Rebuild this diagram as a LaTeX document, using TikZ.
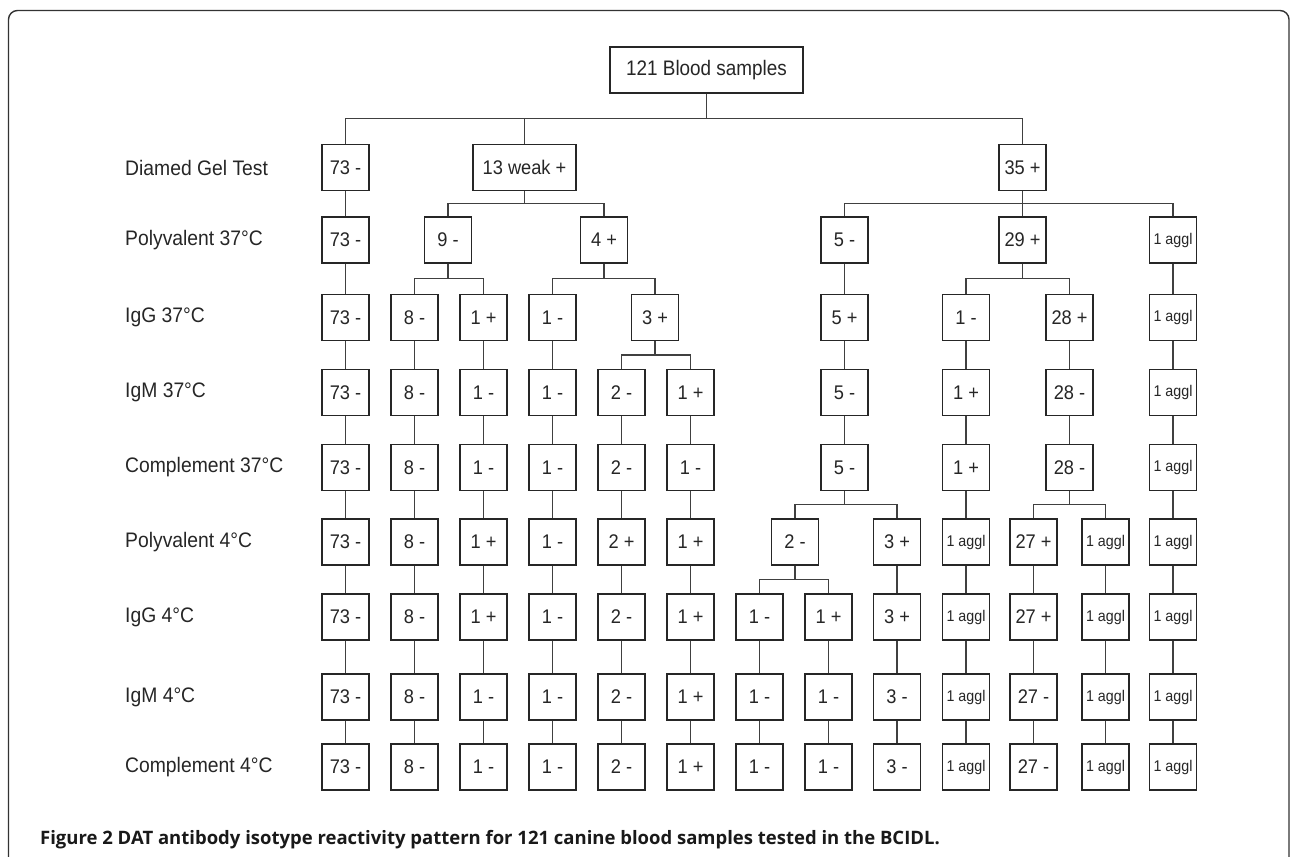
\documentclass[tikz,border=0pt]{standalone}
\usepackage{graphicx}
\usepackage{fontspec}
\setmainfont{Liberation Sans}
\newfontfamily\capfont{Open Sans}
\usetikzlibrary{calc}
\newcommand\B[4]{\node[cell] (#1) at (#2,#3) {\scalebox{.96}[1.04]{#4}};}
\newcommand\A[3]{\node[cell,aggcell] (#1) at (#2,#3) {\scalebox{.92}[1]{1 aggl}};}
\newcommand\lnk[2]{\draw[conn] (#1.south) |- ($(#1.south)!.5!(#2.north)$) -| (#2.north);}
\newcommand\Lb[3]{\node[lab] (#1) at (125,#2) {\scalebox{.92}[1]{#3}};}
\begin{document}
\begin{tikzpicture}[x=1pt,y=-1pt,
  cell/.style={draw=black!85, line width=1.2pt, minimum width=47pt, minimum height=46pt, inner sep=0pt, font=\fontsize{19}{21}\selectfont, text=black!85},
  aggcell/.style={font=\fontsize{15.5}{17}\selectfont},
  lab/.style={anchor=west, inner sep=0pt, font=\fontsize{21}{23}\selectfont, text=black!85},
  conn/.style={draw=black!75, line width=1.2pt}]
\useasboundingbox (0,0) rectangle (1292,856);
\clip (0,0) rectangle (1292,856);
\fill[white] (0,0) rectangle (1292,856);
% frame
\draw[black!80, line width=1.4pt, rounded corners=9pt] (8.5,900) -- (8.5,10.5) -- (1289,10.5) -- (1289,900);
% labels
\Lb{L1}{167.5}{Diamed Gel Test}
\Lb{L2}{240}{Polyvalent 37°C}
\Lb{L3}{317.5}{IgG 37°C}
\Lb{L4}{392.5}{IgM 37°C}
\Lb{L5}{467.5}{Complement 37°C}
\Lb{L6}{542}{Polyvalent 4°C}
\Lb{L7}{617}{IgG 4°C}
\Lb{L8}{697}{IgM 4°C}
\Lb{L9}{767}{Complement 4°C}
% root
\node[cell, minimum width=193pt, font=\fontsize{21}{23}\selectfont] (root) at (706.5,70) {\scalebox{.9}[1]{121 Blood samples}};
% row 1
\B{a1}{345.5}{167.5}{73 -}
\node[cell, minimum width=103pt] (w1) at (524.5,167.5) {\scalebox{.96}[1.04]{13 weak +}};
\B{p1}{1022.5}{167.5}{35 +}
% row 2
\B{a2}{345.5}{240}{73 -}
\B{b2}{448}{240}{9 -}
\B{c2}{604}{240}{4 +}
\B{d2}{844.5}{240}{5 -}
\B{e2}{1022.5}{240}{29 +}
\A{f2}{1173}{240}
% row 3
\B{a3}{345.5}{317.5}{73 -}
\B{g3}{414.5}{317.5}{8 -}
\B{h3}{483.5}{317.5}{1 +}
\B{i3}{552.5}{317.5}{1 -}
\B{j3}{655}{317.5}{3 +}
\B{d3}{844.5}{317.5}{5 +}
\B{k3}{966}{317.5}{1 -}
\B{l3}{1069.5}{317.5}{28 +}
\A{f3}{1173}{317.5}
% row 4
\B{a4}{345.5}{392.5}{73 -}
\B{g4}{414.5}{392.5}{8 -}
\B{h4}{483.5}{392.5}{1 -}
\B{i4}{552.5}{392.5}{1 -}
\B{m4}{621.5}{392.5}{2 -}
\B{n4}{690.5}{392.5}{1 +}
\B{d4}{844.5}{392.5}{5 -}
\B{k4}{966}{392.5}{1 +}
\B{l4}{1069.5}{392.5}{28 -}
\A{f4}{1173}{392.5}
% row 5
\B{a5}{345.5}{467.5}{73 -}
\B{g5}{414.5}{467.5}{8 -}
\B{h5}{483.5}{467.5}{1 -}
\B{i5}{552.5}{467.5}{1 -}
\B{m5}{621.5}{467.5}{2 -}
\B{n5}{690.5}{467.5}{1 -}
\B{d5}{844.5}{467.5}{5 -}
\B{k5}{966}{467.5}{1 +}
\B{l5}{1069.5}{467.5}{28 -}
\A{f5}{1173}{467.5}
% row 6
\B{a6}{345.5}{542}{73 -}
\B{g6}{414.5}{542}{8 -}
\B{h6}{483.5}{542}{1 +}
\B{i6}{552.5}{542}{1 -}
\B{m6}{621.5}{542}{2 +}
\B{n6}{690.5}{542}{1 +}
\B{o6}{795}{542}{2 -}
\B{q6}{897}{542}{3 +}
\A{k6}{966}{542}
\B{s6}{1033.5}{542}{27 +}
\A{t6}{1105.5}{542}
\A{f6}{1173}{542}
% row 7
\B{a7}{345.5}{617}{73 -}
\B{g7}{414.5}{617}{8 -}
\B{h7}{483.5}{617}{1 +}
\B{i7}{552.5}{617}{1 -}
\B{m7}{621.5}{617}{2 -}
\B{n7}{690.5}{617}{1 +}
\B{u7}{759.5}{617}{1 -}
\B{v7}{828.5}{617}{1 +}
\B{q7}{897}{617}{3 +}
\A{k7}{966}{617}
\B{s7}{1033.5}{617}{27 +}
\A{t7}{1105.5}{617}
\A{f7}{1173}{617}
% row 8
\B{a8}{345.5}{697}{73 -}
\B{g8}{414.5}{697}{8 -}
\B{h8}{483.5}{697}{1 -}
\B{i8}{552.5}{697}{1 -}
\B{m8}{621.5}{697}{2 -}
\B{n8}{690.5}{697}{1 +}
\B{u8}{759.5}{697}{1 -}
\B{v8}{828.5}{697}{1 -}
\B{q8}{897}{697}{3 -}
\A{k8}{966}{697}
\B{s8}{1033.5}{697}{27 -}
\A{t8}{1105.5}{697}
\A{f8}{1173}{697}
% row 9
\B{a9}{345.5}{767}{73 -}
\B{g9}{414.5}{767}{8 -}
\B{h9}{483.5}{767}{1 -}
\B{i9}{552.5}{767}{1 -}
\B{m9}{621.5}{767}{2 -}
\B{n9}{690.5}{767}{1 +}
\B{u9}{759.5}{767}{1 -}
\B{v9}{828.5}{767}{1 -}
\B{q9}{897}{767}{3 -}
\A{k9}{966}{767}
\B{s9}{1033.5}{767}{27 -}
\A{t9}{1105.5}{767}
\A{f9}{1173}{767}
% connectors
\lnk{root}{a1}\lnk{root}{w1}\lnk{root}{p1}
\lnk{a1}{a2}\lnk{w1}{b2}\lnk{w1}{c2}\lnk{p1}{d2}\lnk{p1}{e2}\lnk{p1}{f2}
\lnk{a2}{a3}\lnk{b2}{g3}\lnk{b2}{h3}\lnk{c2}{i3}\lnk{c2}{j3}\lnk{d2}{d3}\lnk{e2}{k3}\lnk{e2}{l3}\lnk{f2}{f3}
\foreach \c in {a,g,h,i,d,k,l,f} {\lnk{\c3}{\c4}}
\lnk{j3}{m4}\lnk{j3}{n4}
\foreach \c in {a,g,h,i,m,n,d,k,l,f} {\lnk{\c4}{\c5}}
\foreach \c in {a,g,h,i,m,n,k,f} {\lnk{\c5}{\c6}}
\lnk{d5}{o6}\lnk{d5}{q6}\lnk{l5}{s6}\lnk{l5}{t6}
\foreach \c in {a,g,h,i,m,n,q,k,s,t,f} {\lnk{\c6}{\c7}}
\lnk{o6}{u7}\lnk{o6}{v7}
\foreach \c in {a,g,h,i,m,n,u,v,q,k,s,t,f} {\lnk{\c7}{\c8}\lnk{\c8}{\c9}}
% caption
\node[anchor=west, inner sep=0pt, text=black!90, font=\capfont\bfseries\fontsize{18.5}{20}\selectfont] (cap) at (40,840) {Figure 2 DAT antibody isotype reactivity pattern for 121 canine blood samples tested in the BCIDL.};
\end{tikzpicture}
\end{document}
